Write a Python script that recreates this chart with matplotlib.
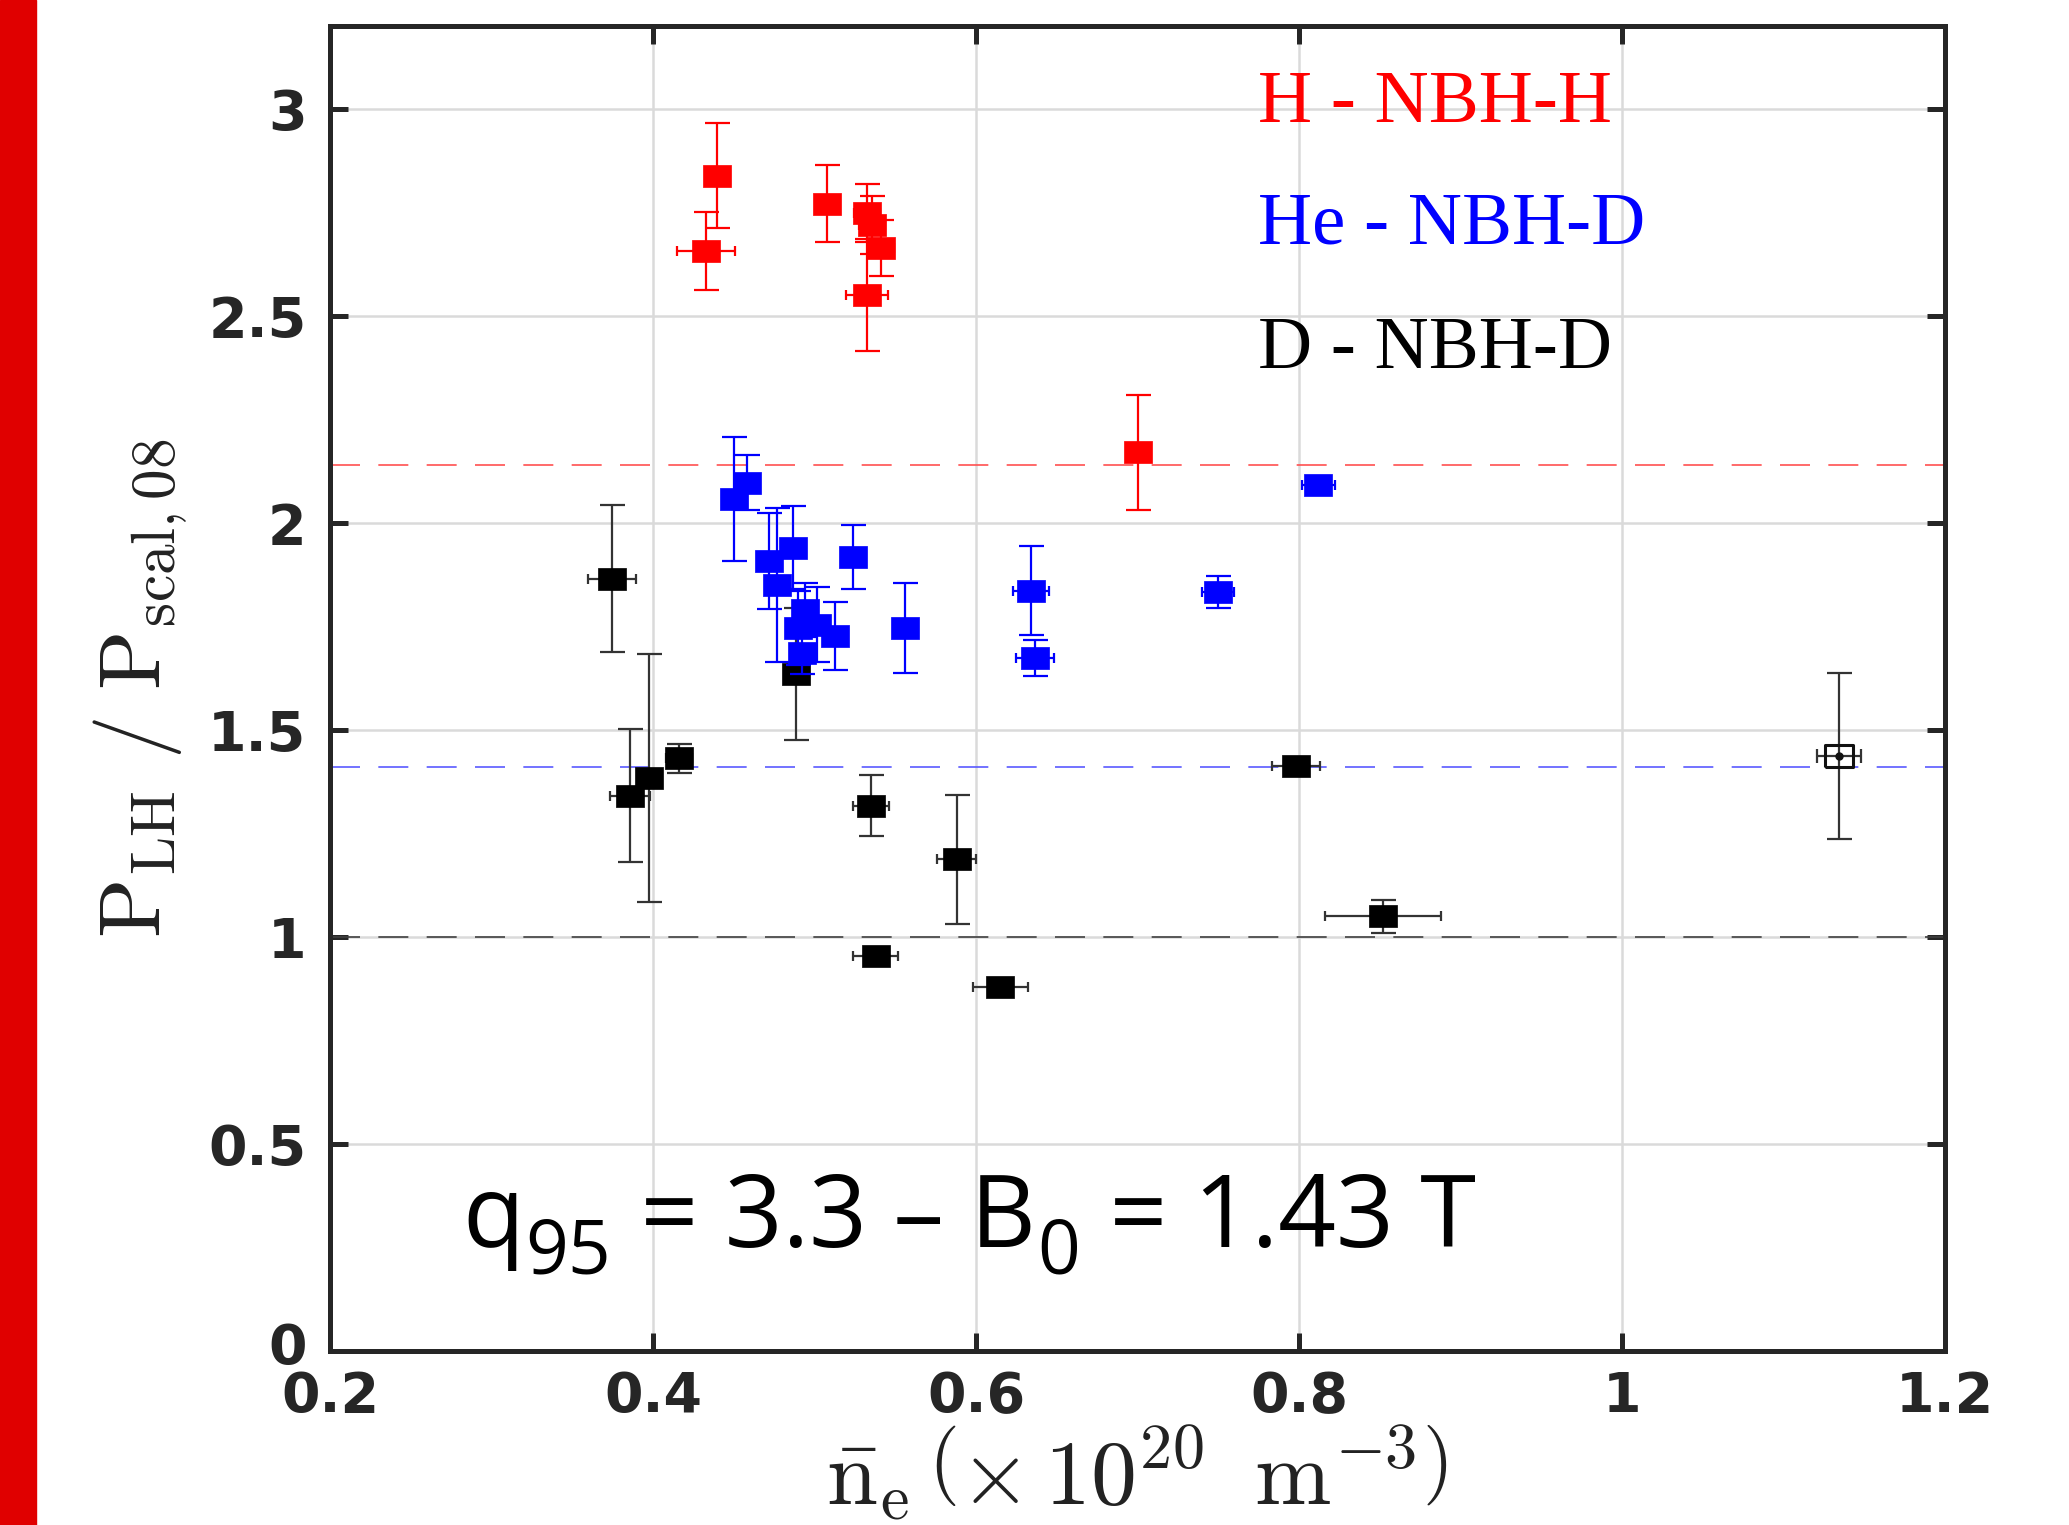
import numpy as np
import matplotlib
matplotlib.use("Agg")
import matplotlib.pyplot as plt
from matplotlib.patches import Rectangle
from matplotlib.transforms import ScaledTranslation

# H - NBH-H (red)
h_x = [0.4396, 0.4328, 0.508, 0.5325, 0.5356, 0.541, 0.5325, 0.700]
h_y = [2.838, 2.657, 2.771, 2.749, 2.720, 2.664, 2.551, 2.170]
h_yerr = [0.127, 0.095, 0.093, 0.07, 0.07, 0.067, 0.135, 0.14]
h_xerr = [0.0, 0.018, 0.0, 0.008, 0.008, 0.008, 0.013, 0.0]

# He - NBH-D (blue)
he_x = [0.450, 0.458, 0.472, 0.4867, 0.4768, 0.5238, 0.494, 0.490, 0.5015,
        0.513, 0.492, 0.556, 0.634, 0.6365, 0.7498, 0.812]
he_y = [2.058, 2.097, 1.908, 1.940, 1.850, 1.918, 1.790, 1.746, 1.754,
        1.727, 1.686, 1.746, 1.836, 1.674, 1.833, 2.091]
he_yerr = [0.15, 0.067, 0.115, 0.10, 0.186, 0.078, 0.065, 0.09, 0.09,
           0.083, 0.05, 0.108, 0.107, 0.044, 0.038, 0.02]
he_xerr = [0.0, 0.0, 0.0, 0.0, 0.0, 0.0, 0.0, 0.0, 0.0,
           0.005, 0.0, 0.005, 0.011, 0.012, 0.010, 0.010]

# D - NBH-D (black)
d_x = [0.3746, 0.3858, 0.3975, 0.416, 0.4885, 0.535, 0.588, 0.538, 0.6149, 0.798, 0.852]
d_y = [1.865, 1.341, 1.384, 1.432, 1.635, 1.317, 1.188, 0.954, 0.879, 1.414, 1.050]
d_yerr = [0.178, 0.16, 0.30, 0.035, 0.16, 0.073, 0.156, 0.02, 0.01, 0.01, 0.04]
d_xerr = [0.0146, 0.0124, 0.005, 0.008, 0.0, 0.011, 0.012, 0.014, 0.017, 0.015, 0.036]

# open black point
open_x = [1.1344]
open_y = [1.437]
open_yerr = [0.2]
open_xerr = [0.0136]

# reference levels (dashed)
ref_levels = [2.14, 1.41, 1.0]
ref_colors = ["#ff5050", "#5a5aff", "#404040"]

legend_labels = ["H - NBH-H", "He - NBH-D", "D - NBH-D"]
legend_colors = ["#ff0000", "#0000ff", "#000000"]

# annotation pieces: (text, is_subscript)
note_parts = [("q", False), ("95", True), (" = 3.3 – B", False), ("0", True), (" = 1.43 T", False)]

fig = plt.figure(figsize=(20.69, 15.25), dpi=100)
ax = fig.add_axes([330 / 2069, 1 - 1351 / 1525, 1615 / 2069, 1325 / 1525])

# red strip on the left edge of the slide
fig.patches.append(Rectangle((0, 0), 36 / 2069, 1, transform=fig.transFigure,
                             color="#e00000", zorder=0))

# rectangular marker (image is slightly stretched horizontally)
rect = [(-1.27, -1), (1.27, -1), (1.27, 1), (-1.27, 1), (-1.27, -1)]
MS = 20


def draw_series(x, y, yerr, xerr, color, ecolor, zo):
    ax.errorbar(x, y, yerr=yerr, fmt="none", ecolor=ecolor, elinewidth=1.6,
                capsize=9, capthick=1.6, zorder=zo)
    ax.errorbar(x, y, xerr=xerr, fmt="none", ecolor=ecolor, elinewidth=1.6,
                capsize=3.5, capthick=1.6, zorder=zo)
    ax.plot(x, y, linestyle="none", marker=rect, ms=MS, mfc=color, mec=color,
            mew=0.5, zorder=zo + 0.5)


for lvl, c in zip(ref_levels, ref_colors):
    ax.axhline(lvl, color=c, lw=1.2, ls=(0, (18, 11)), zorder=2)

draw_series(d_x, d_y, d_yerr, d_xerr, "#000000", "#333333", 3)
draw_series(he_x, he_y, he_yerr, he_xerr, "#0000ff", "#0000ff", 5)
draw_series(h_x, h_y, h_yerr, h_xerr, "#ff0000", "#ff0000", 7)

ax.errorbar(open_x, open_y, yerr=open_yerr, fmt="none", ecolor="#333333",
            elinewidth=1.6, capsize=9, capthick=1.6, zorder=3)
ax.errorbar(open_x, open_y, xerr=open_xerr, fmt="none", ecolor="#333333",
            elinewidth=1.6, capsize=5, capthick=1.6, zorder=3)
ax.plot(open_x, open_y, linestyle="none", marker=rect, ms=MS, mfc="none",
        mec="#111111", mew=2.2, zorder=4)
ax.plot(open_x, open_y, linestyle="none", marker="o", ms=5, color="#111111", zorder=4)

ax.set_xlim(0.2, 1.2)
ax.set_ylim(0, 3.2)
ax.set_xticks([0.2, 0.4, 0.6, 0.8, 1.0, 1.2])
ax.set_xticklabels(["0.2", "0.4", "0.6", "0.8", "1", "1.2"])
ax.set_yticks([0, 0.5, 1, 1.5, 2, 2.5, 3])
ax.set_yticklabels(["0", "0.5", "1", "1.5", "2", "2.5", "3"])
ax.grid(True, color="#dadada", lw=1.8, zorder=0)
ax.set_axisbelow(True)

for s in ax.spines.values():
    s.set_linewidth(3.6)
    s.set_color("#262626")
ax.tick_params(direction="in", length=13, width=3.6, color="#262626",
               top=True, right=True, labelsize=40, pad=17)
for lab in ax.get_xticklabels() + ax.get_yticklabels():
    lab.set_fontfamily("DejaVu Sans")
    lab.set_fontweight("bold")
    lab.set_color("#262626")
ax.tick_params(axis="x", pad=14)

# lift the y "0" a touch so it clears the "0.2" below it
zero_lab = ax.get_yticklabels()[0]
zero_lab.set_transform(zero_lab.get_transform() + ScaledTranslation(0, 6 / 72, fig.dpi_scale_trans))

ax.set_ylabel(r"$\mathrm{P_{LH}\ /\ P_{scal,08}}$", fontsize=63,
              math_fontfamily="cm", color="#222222")
ax.yaxis.set_label_coords(-0.087, 0.5)
fig.text(1137 / 2069, (1525 - 1504) / 1525,
         r"$\bar{\mathrm{n}}_{\mathrm{e}}\,\left(\times\,10^{20}\;\;\mathrm{m}^{-3}\right)$",
         fontsize=66, math_fontfamily="cm", ha="center", va="baseline",
         color="#222222")

# legend as coloured text
base_y = [122, 244, 368]
for lab, c, by in zip(legend_labels, legend_colors, base_y):
    fig.text(1258 / 2069, (1525 - by) / 1525, lab, color=c, fontsize=54,
             family="Liberation Serif", va="baseline", ha="left")

# q95 / B0 annotation, chained so the subscripts can be larger than mathtext's
prev = fig.text(462 / 2069, (1525 - 1247) / 1525, note_parts[0][0], fontsize=73,
                family="Open Sans", va="baseline", ha="left", color="#000000")
main = prev
for txt, sub in note_parts[1:]:
    if sub:
        t = ax.annotate(txt, xy=(1, 0), xycoords=(prev, main), xytext=(1, -15),
                        textcoords="offset points", fontsize=54, family="Open Sans",
                        va="bottom", ha="left", color="#000000")
    else:
        t = ax.annotate(txt, xy=(1, 0), xycoords=(prev, main), xytext=(2, 0),
                        textcoords="offset points", fontsize=73, family="Open Sans",
                        va="bottom", ha="left", color="#000000")
    prev = t

fig.savefig("out.png", dpi=100)
